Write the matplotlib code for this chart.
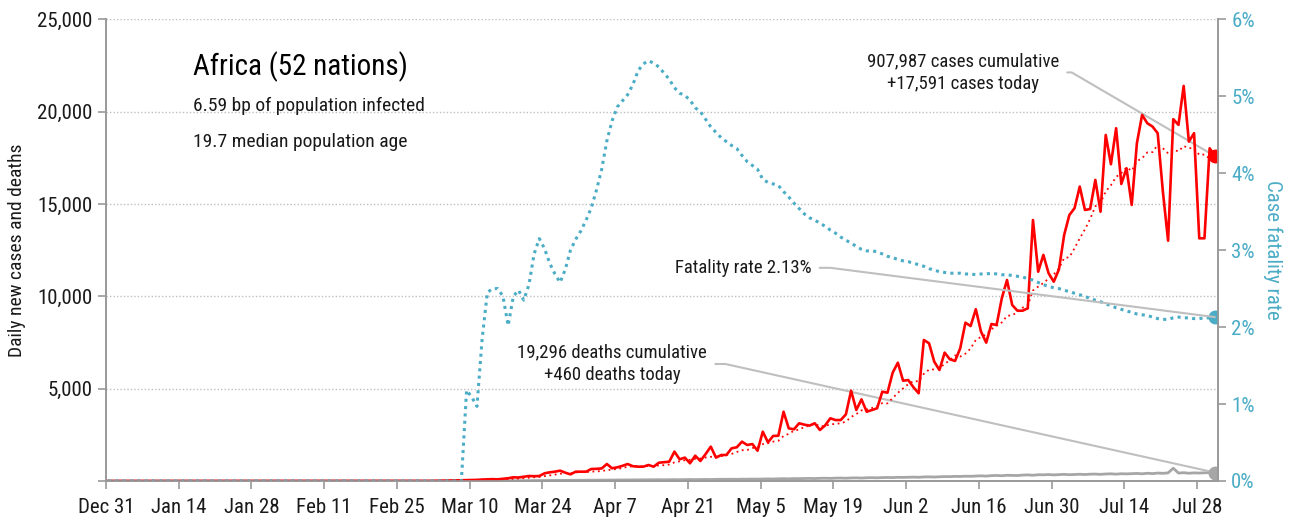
import matplotlib
matplotlib.use("Agg")
import matplotlib.pyplot as plt
import numpy as np
from matplotlib import font_manager
from matplotlib.ticker import FuncFormatter

# africa covid chart: daily cases / deaths (left axis) and case fatality rate (right axis)
# days are counted from Dec 31

# daily new cases, starting at day 61
cases_start = 61
cases = [5, 3, 10, 15, 20, 25, 30, 40, 50, 55,
         60, 80, 90, 100, 90, 120, 150, 200, 190, 230,
         270, 260, 270, 415, 470, 505, 560, 450, 360, 505,
         505, 505, 650, 660, 680, 920, 690, 740, 820, 920,
         800, 775, 775, 866, 775, 990, 1020, 1045, 1590, 1175,
         1265, 960, 1370, 1083, 1460, 1860, 1265, 1408, 1408, 1770,
         1825, 2130, 1950, 2000, 1640, 2670, 2095, 2440, 2450, 3750,
         2850, 2800, 3125, 3050, 3000, 3125, 2760, 3010, 3395, 3300,
         3300, 3610, 4890, 3845, 4420, 3750, 3845, 3935, 4835, 4780,
         5865, 6405, 5430, 5465, 5075, 4750, 7635, 7455, 6460, 6010,
         6950, 6590, 6500, 7185, 8570, 8390, 9300, 8085, 7490, 8500,
         8450, 9890, 10880, 9530, 9220, 9220, 9350, 14130, 11330, 12240,
         11250, 10790, 11460, 13320, 14400, 14770, 15940, 14675, 14725, 16300,
         14580, 18735, 17150, 19100, 16080, 16930, 14945, 18290, 19820, 19370,
         19190, 18830, 15665, 13010, 19590, 19280, 21390, 18375, 18830, 13140,
         13140, 18015, 17591]

# 7 day average of cases (red dotted)
cases_avg = [1, 1, 3, 5, 8, 11, 15, 20, 27, 34,
             43, 52, 62, 72, 79, 86, 99, 117, 134, 153,
             179, 201, 221, 262, 301, 346, 393, 419, 430, 464,
             479, 484, 506, 520, 537, 594, 616, 659, 697, 776,
             796, 809, 789, 814, 819, 843, 857, 892, 1009, 1066,
             1123, 1149, 1204, 1213, 1272, 1310, 1323, 1344, 1408, 1465,
             1571, 1667, 1679, 1784, 1818, 1998, 2044, 2132, 2178, 2435,
             2556, 2722, 2787, 2924, 3004, 3100, 2959, 2981, 3066, 3091,
             3127, 3214, 3466, 3621, 3823, 3874, 3951, 4042, 4217, 4201,
             4490, 4774, 5014, 5245, 5408, 5396, 5804, 6031, 6039, 6121,
             6334, 6550, 6800, 6736, 6895, 7171, 7641, 7803, 7931, 8217,
             8398, 8586, 8942, 8975, 9137, 9384, 9506, 10317, 10523, 10717,
             10963, 11187, 11507, 12074, 12113, 12604, 13133, 13622, 14184, 14876,
             15056, 15675, 16015, 16466, 16667, 16982, 16789, 17319, 17474, 17791,
             17804, 18196, 18016, 17739, 17925, 17848, 18136, 18020, 18020, 17659,
             17678, 17453, 17212]

# daily deaths, starting at day 70
deaths_start = 70
deaths = [2, 3, 5, 4, 6, 8, 7, 10, 12, 14,
          15, 18, 20, 22, 25, 28, 30, 32, 35, 38,
          40, 42, 45, 48, 50, 52, 55, 58, 60, 62,
          60, 58, 65, 62, 60, 68, 70, 65, 72, 75,
          70, 78, 80, 75, 82, 85, 80, 90, 88, 92,
          95, 90, 100, 98, 105, 100, 110, 115, 108, 120,
          125, 118, 130, 128, 135, 140, 132, 145, 150, 142,
          155, 160, 150, 165, 170, 160, 175, 180, 172, 185,
          190, 185, 200, 195, 205, 210, 200, 220, 225, 215,
          230, 240, 235, 250, 245, 260, 255, 270, 280, 265,
          290, 300, 285, 310, 305, 295, 320, 330, 310, 340,
          335, 350, 330, 345, 360, 340, 355, 365, 350, 370,
          375, 360, 380, 390, 370, 395, 385, 400, 410, 390,
          420, 400, 430, 415, 440, 690, 430, 450, 420, 440,
          430, 445, 450, 460]

# case fatality rate in %, starting at day 68 (zero before)
cfr_start = 68
cfr = [0, 1.18, 1.09, 0.97, 1.85, 2.45, 2.5, 2.5, 2.4, 2.02,
       2.4, 2.48, 2.35, 2.55, 2.95, 3.15, 3.02, 2.83, 2.69, 2.58,
       2.75, 3.0, 3.14, 3.25, 3.39, 3.55, 3.78, 4.05, 4.42, 4.68,
       4.86, 4.94, 5.02, 5.15, 5.33, 5.42, 5.46, 5.43, 5.38, 5.3,
       5.22, 5.11, 5.04, 5.01, 4.95, 4.85, 4.8, 4.7, 4.6, 4.53,
       4.46, 4.41, 4.36, 4.32, 4.23, 4.15, 4.1, 4.05, 3.92, 3.88,
       3.86, 3.84, 3.76, 3.69, 3.61, 3.54, 3.47, 3.42, 3.39, 3.35,
       3.31, 3.26, 3.22, 3.17, 3.13, 3.09, 3.05, 3.01, 2.99, 2.99,
       2.98, 2.95, 2.92, 2.9, 2.88, 2.86, 2.85, 2.83, 2.81, 2.79,
       2.76, 2.74, 2.72, 2.71, 2.70, 2.70, 2.70, 2.69, 2.69, 2.68,
       2.69, 2.69, 2.70, 2.69, 2.68, 2.68, 2.67, 2.66, 2.65, 2.63,
       2.61, 2.58, 2.55, 2.53, 2.51, 2.50, 2.48, 2.46, 2.44, 2.42,
       2.40, 2.37, 2.35, 2.33, 2.30, 2.28, 2.25, 2.23, 2.21, 2.19,
       2.17, 2.16, 2.15, 2.13, 2.11, 2.10, 2.10, 2.12, 2.13, 2.12,
       2.12, 2.11, 2.11, 2.12, 2.12, 2.13]

date_labels = ["Dec 31", "Jan 14", "Jan 28", "Feb 11", "Feb 25", "Mar 10", "Mar 24", "Apr 7",
               "Apr 21", "May 5", "May 19", "Jun 2", "Jun 16", "Jun 30", "Jul 14", "Jul 28"]

title = "Africa (52 nations)"
sub1 = "6.59 bp of population infected"
sub2 = "19.7 median population age"
cases_note = "907,987 cases cumulative\n+17,591 cases today"
deaths_note = "19,296 deaths cumulative\n+460 deaths today"
cfr_note = "Fatality rate 2.13%"

RED = "#ff0000"
TEAL = "#4bacc6"
GRAY = "#a6a6a6"
LINE = "#bfbfbf"
TXT = "#1a1a1a"

# look for a narrow font, otherwise roboto (narrower than dejavu)
installed = {f.name for f in font_manager.fontManager.ttflist}
narrow = [n for n in ["Roboto Condensed", "Liberation Sans Narrow", "Open Sans Condensed",
                      "Noto Sans Condensed", "Arial Narrow"] if n in installed]
if narrow:
    plt.rcParams["font.family"] = [narrow[0], "DejaVu Sans"]
    k = 1.0
else:
    plt.rcParams["font.family"] = ["Roboto", "DejaVu Sans"]
    k = 0.86  # shrink text a bit so widths come out closer

"________________________________________________________________"

x_cases = np.arange(cases_start, cases_start + len(cases))
x_avg = np.arange(cases_start, cases_start + len(cases_avg))
x_deaths = np.arange(deaths_start, deaths_start + len(deaths))
cfr_all = [0] * cfr_start + cfr
x_cfr = np.arange(len(cfr_all))
cases_all = [0] * cases_start + cases
x_cases_all = np.arange(len(cases_all))
deaths_all = [0] * deaths_start + deaths
x_deaths_all = np.arange(len(deaths_all))

fig = plt.figure(figsize=(12.92, 5.2), dpi=100)
ax = fig.add_axes([0.082, 0.075, 0.8607, 0.888])
ax2 = ax.twinx()

ax.plot(x_deaths_all, deaths_all, color=GRAY, lw=2, zorder=3)
ax.plot(x_cases_all, cases_all, color=RED, lw=1.9, zorder=4)
ax.plot(x_avg, cases_avg, color=RED, lw=1.3, ls=(0, (1, 2)), zorder=4)
ax.plot(x_cases[-1], cases[-1], "o", color=RED, ms=9, zorder=5)
ax.plot(x_deaths[-1], deaths[-1], "o", color=GRAY, ms=9, zorder=5)

ax2.plot(x_cfr, cfr_all, color=TEAL, lw=2.2, ls=(0, (1, 1.4)))
ax2.plot(x_cfr[-1], cfr_all[-1], "o", color=TEAL, ms=9)

ax.set_xlim(-0.4, 213.6)
ax.set_ylim(0, 25000)
ax2.set_ylim(0, 6)

ax.set_xticks(np.arange(len(date_labels)) * 14 - 0.4)
ax.set_xticklabels(date_labels)
ax.set_yticks(np.arange(0, 25001, 5000))
ax.yaxis.set_major_formatter(FuncFormatter(lambda v, p: "" if v == 0 else f"{v:,.0f}"))
ax2.set_yticks(np.arange(0, 7))
ax2.yaxis.set_major_formatter(FuncFormatter(lambda v, p: f"{v:.0f}%"))

ax.grid(axis="y", color=LINE, ls=(0, (1, 1.5)), lw=1)
ax.set_axisbelow(True)

for a in (ax, ax2):
    a.spines["top"].set_visible(False)
    for s in ("left", "right", "bottom"):
        a.spines[s].set_color("#999999")
        a.spines[s].set_linewidth(1.2)
ax.tick_params(axis="both", colors="#999999", labelcolor=TXT, labelsize=15 * k, length=6, width=1.2)
ax2.tick_params(axis="y", colors="#999999", labelcolor=TEAL, labelsize=15 * k, length=6, width=1.2)
ax.tick_params(axis="x", pad=6)

ax.set_ylabel("Daily new cases and deaths", fontsize=14 * k, color=TXT, labelpad=8)
ax2.set_ylabel("Case fatality rate", fontsize=15 * k, color=TEAL, rotation=270, labelpad=20)

# title block
ax.text(0.078, 0.898, title, transform=ax.transAxes, fontsize=21 * k, color="black", va="center")
ax.text(0.078, 0.813, sub1, transform=ax.transAxes, fontsize=14 * k, color=TXT, va="center")
ax.text(0.078, 0.735, sub2, transform=ax.transAxes, fontsize=14 * k, color=TXT, va="center")

# notes with leader lines
arrow = dict(arrowstyle="-", color=LINE, lw=1.5, shrinkA=4, shrinkB=0, relpos=(1, 0.5))
ax.annotate(cases_note, xy=(x_cases[-1], cases[-1]), xytext=(164.5, 22120), textcoords="data",
            ha="center", va="center", fontsize=13.5 * k, color=TXT, linespacing=1.35,
            arrowprops=dict(arrow, connectionstyle="angle,angleA=0,angleB=-30.3,rad=0"))
ax.annotate(deaths_note, xy=(x_deaths[-1], deaths[-1]), xytext=(97, 6335), textcoords="data",
            ha="center", va="center", fontsize=13.5 * k, color=TXT, linespacing=1.35,
            arrowprops=dict(arrow, connectionstyle="angle,angleA=0,angleB=-12.5,rad=0"))
ax2.annotate(cfr_note, xy=(x_cfr[-1], cfr_all[-1]), xytext=(122.2, 2.77), textcoords="data",
             ha="center", va="center", fontsize=13.5 * k, color=TXT,
             arrowprops=dict(arrow, connectionstyle="angle,angleA=0,angleB=-7.3,rad=0"))

plt.savefig("out.png", dpi=100)
